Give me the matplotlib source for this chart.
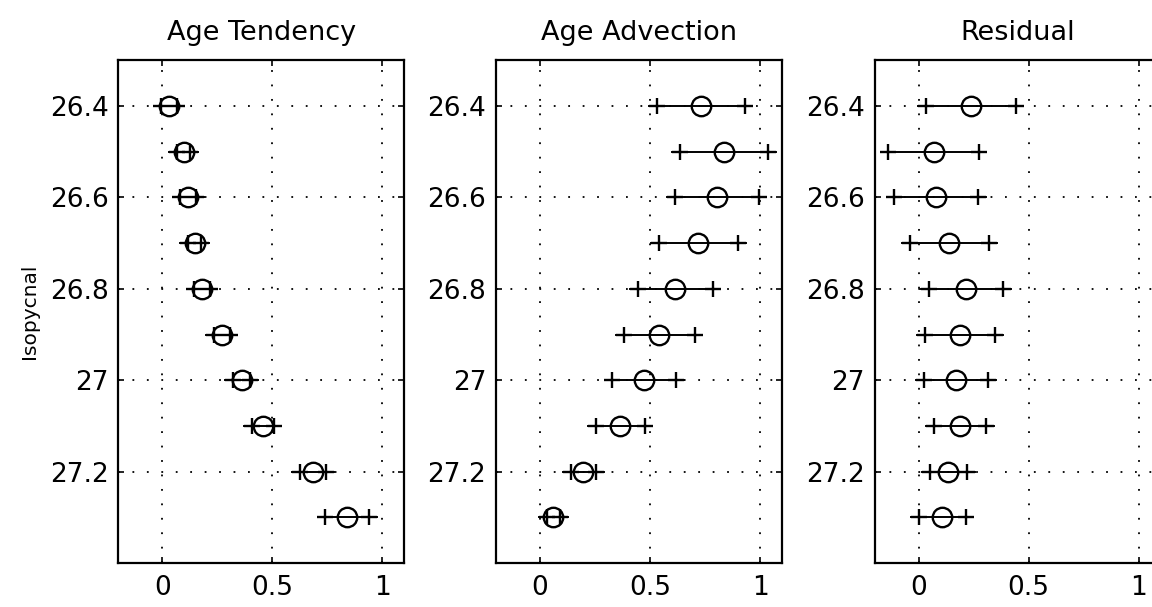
import numpy as np
import matplotlib.pyplot as plt
from matplotlib.ticker import FuncFormatter

plt.rcParams['font.family'] = ['DejaVu Sans']

isopycnal = [26.4, 26.5, 26.6, 26.7, 26.8, 26.9, 27.0, 27.1, 27.2, 27.3]

titles = ["Age Tendency", "Age Advection", "Residual"]

tend_mean = [0.03, 0.097, 0.117, 0.147, 0.18, 0.27, 0.36, 0.456, 0.684, 0.84]
tend_err = [0.035, 0.03, 0.035, 0.03, 0.035, 0.035, 0.04, 0.05, 0.06, 0.10]

adv_mean = [0.73, 0.836, 0.803, 0.72, 0.614, 0.542, 0.473, 0.364, 0.197, 0.06]
adv_err = [0.2, 0.2, 0.19, 0.18, 0.17, 0.16, 0.145, 0.112, 0.058, 0.03]

res_mean = [0.237, 0.068, 0.08, 0.14, 0.215, 0.188, 0.17, 0.188, 0.135, 0.107]
res_err = [0.204, 0.205, 0.19, 0.18, 0.17, 0.16, 0.145, 0.12, 0.085, 0.107]

means = [tend_mean, adv_mean, res_mean]
errs = [tend_err, adv_err, res_err]

fig = plt.figure(figsize=(11.52, 6.07), dpi=100)
lefts = [0.1028, 0.4306, 0.7592]
ext = 0.035  # line runs a little past the + marks

fmt = FuncFormatter(lambda v, p: f"{v:g}")

for k in range(3):
    ax = fig.add_axes([lefts[k], 0.0725, 0.2483, 0.828])
    y = np.array(isopycnal)
    m = np.array(means[k])
    e = np.array(errs[k])
    for yi, mi, ei in zip(y, m, e):
        ax.plot([mi - ei - ext, mi + ei + ext], [yi, yi], "k-", lw=1.4, zorder=3)
    ax.plot(m - e, y, "k+", ms=12, mew=1.7, zorder=4)
    ax.plot(m + e, y, "k+", ms=12, mew=1.7, zorder=4)
    ax.plot(m, y, "ko", mfc="none", ms=14, mew=1.7, zorder=5)

    ax.set_xlim(-0.2, 1.1)
    ax.set_ylim(27.4, 26.3)
    ax.set_xticks([0, 0.5, 1])
    ax.set_yticks([26.4, 26.6, 26.8, 27.0, 27.2])
    ax.xaxis.set_major_formatter(fmt)
    ax.yaxis.set_major_formatter(fmt)
    ax.grid(True, color="k", linestyle=(0, (1, 7)), linewidth=1.3)
    ax.tick_params(direction="in", length=4, width=1.2, labelsize=19,
                   top=True, right=True)
    ax.tick_params(axis="x", pad=9)
    ax.tick_params(axis="y", pad=7)
    for s in ax.spines.values():
        s.set_linewidth(1.6)
    ax.set_title(titles[k], fontsize=19.5, pad=15)
    if k == 0:
        ax.set_ylabel("Isopycnal", fontsize=14.5, labelpad=8)

fig.savefig("out.png", dpi=100)
